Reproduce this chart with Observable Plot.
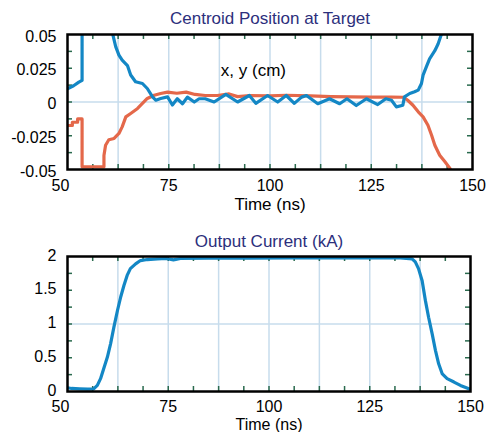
<!DOCTYPE html>
<html>
<head>
<meta charset="utf-8">
<script src="https://cdn.jsdelivr.net/npm/d3@7"></script>
<script src="https://cdn.jsdelivr.net/npm/@observablehq/plot@0.6"></script>
<style>
  html, body { margin: 0; padding: 0; background: #fff; }
  #chart svg { display: block; }
</style>
</head>
<body>
<div id="chart"></div>
<script>
// ---- Data ----
const topTitle = "Centroid Position at Target";
const bottomTitle = "Output Current (kA)";
const xAxisLabel = "Time (ns)";
const innerLabel = "x, y (cm)";

const timeX = [50, 51.5, 52.8, 53.6, 53.6, 60.0, 61.9, 62.7, 63.5, 64.8, 65.6, 66.8, 68.5, 69.7, 71.0, 71.8, 73.0, 74.7, 75.9, 77.1, 78.4, 79.6, 81.3, 82.5, 84.0, 86.2, 89.1, 92.0, 94.9, 96.5, 99.4, 101.9, 104.0, 106.0, 107.8, 109.0, 111.8, 114.7, 117.2, 119.0, 121.3, 123.8, 126.6, 128.6, 130.0, 131.2, 132.8, 133.2, 134.5, 135.7, 136.6, 137.4, 137.8, 138.6, 139.4, 140.7, 141.5, 142.3, 143.0];
const centroidX = [0.0098, 0.012, 0.0147, 0.016, 0.075, 0.065, 0.041, 0.0347, 0.031, 0.027, 0.020, 0.015, 0.0137, 0.010, 0.0038, 0.0013, 0.0026, 0.0038, -0.0022, 0.0024, -0.0013, 0.0036, 0, 0.0024, 0.0024, 0, 0.0056, 0, 0.0048, -0.001, 0.0048, 0, 0.0048, -0.001, 0.0036, 0.0048, -0.0013, 0.0024, -0.0013, 0.0024, -0.0026, 0.0024, -0.0019, 0.0024, 0.0013, -0.0036, -0.0024, 0.0038, 0.0063, 0.0076, 0.0088, 0.0137, 0.0199, 0.026, 0.032, 0.038, 0.043, 0.05, 0.056];

const timeY = [50, 51.2, 51.2, 52.5, 52.5, 53.6, 53.6, 59.0, 59.0, 59.4, 60.2, 61.5, 62.7, 63.5, 64.4, 65.6, 67.3, 68.5, 69.7, 71.4, 73.0, 74.7, 77.0, 79.3, 81.5, 84, 87, 89.9, 92, 95, 100, 104, 110, 115, 120, 125, 130, 133, 134.0, 135.3, 136.6, 137.8, 139.0, 139.9, 140.7, 141.9, 143.2, 144.4, 145.2];
const centroidY = [-0.0174, -0.0174, -0.015, -0.015, -0.0125, -0.0125, -0.048, -0.048, -0.0396, -0.032, -0.028, -0.027, -0.0233, -0.0184, -0.011, -0.0085, -0.0048, -0.0011, 0.0026, 0.005, 0.0063, 0.0073, 0.0065, 0.0073, 0.0056, 0.0048, 0.0048, 0.006, 0.0040, 0.0048, 0.0045, 0.005, 0.0045, 0.004, 0.0038, 0.0036, 0.0036, 0.0035, 0.0013, -0.0024, -0.0073, -0.011, -0.0172, -0.0246, -0.032, -0.0394, -0.0443, -0.049, -0.054];

const timeI = [50, 51, 53, 55, 56.5, 57.4, 58.2, 59.0, 59.9, 60.7, 61.5, 62.4, 63.2, 64.0, 64.8, 65.6, 66.9, 68.1, 69.8, 72.3, 74.5, 76.3, 78, 85, 95, 105, 115, 125, 132.6, 135.5, 136.3, 137.1, 138.0, 138.8, 139.6, 140.5, 141.3, 142.1, 143.0, 144.2, 145.9, 147.5, 149.6, 150];
const current = [0.055, 0.045, 0.04, 0.035, 0.04, 0.09, 0.19, 0.34, 0.51, 0.71, 0.95, 1.2, 1.40, 1.57, 1.72, 1.82, 1.89, 1.94, 1.955, 1.966, 1.97, 1.95, 1.97, 1.975, 1.975, 1.98, 1.98, 1.98, 1.98, 1.966, 1.92, 1.82, 1.64, 1.35, 1.10, 0.85, 0.61, 0.41, 0.26, 0.19, 0.14, 0.09, 0.04, 0.03];

const xTickLabels = [75, 100, 125, 150];
const xFirstLabel = [50];
const xGrid = [62.5, 75, 87.5, 100, 112.5, 125, 137.5];
const xMinor = [56.25, 62.5, 68.75, 75, 81.25, 87.5, 93.75, 100, 106.25, 112.5, 118.75, 125, 131.25, 137.5, 143.75];
const yTopLabels = [-0.05, -0.025, 0, 0.025, 0.05];
const yTopMinor = [-0.0375, -0.025, -0.0125, 0, 0.0125, 0.025, 0.0375];
const yTopGrid = [0];
const yBotLabels = [0, 0.5, 1, 1.5, 2];
const yBotMinor = [0.25, 0.5, 0.75, 1, 1.25, 1.5, 1.75];
const yBotGrid = [1];
const innerLabelPos = [{t: 95.9, v: 0.0233}];

// ---- Style ----
const BLUE = "#1387c5";
const ORANGE = "#e4684a";
const GRID = "#c7dcec";
const TICK = "#2a6a4e";
const NAVY = "#2c2f7c";
const FONT = "'Liberation Sans', Arial, sans-serif";

function panel({height, mT, mB, mL, mR, yDomain, yLabels, yMinor, yGrid, series, title, titleDy, xlabDy, xlabSize = 17, xPad = 10, yDy = 2, extra = []}) {
  const fw = 487 - mL - mR;
  const fh = height - mT - mB;
  const tl = 5;
  return Plot.plot({
    width: 487, height,
    marginTop: mT, marginBottom: mB, marginLeft: mL, marginRight: mR,
    x: {domain: [50, 150]},
    y: {domain: yDomain},
    style: {fontFamily: FONT, fontSize: "16px", color: "black", background: "white", overflow: "visible"},
    marks: [
      Plot.ruleX(xGrid, {stroke: GRID, strokeWidth: 1.5}),
      Plot.ruleY(yGrid, {stroke: GRID, strokeWidth: 1.5}),
      Plot.ruleX(xMinor, {stroke: TICK, strokeWidth: 1.5, insetBottom: fh - tl}),
      Plot.ruleX(xMinor, {stroke: TICK, strokeWidth: 1.5, insetTop: fh - tl}),
      Plot.ruleY(yMinor, {stroke: TICK, strokeWidth: 1.5, insetRight: fw - tl}),
      Plot.ruleY(yMinor, {stroke: TICK, strokeWidth: 1.5, insetLeft: fw - tl}),
      ...series.map(s => Plot.line(s.t.map((t, i) => ({t, v: s.v[i]})), {x: "t", y: "v", stroke: s.color, strokeWidth: 3.2, clip: true})),
      Plot.frame({stroke: "black", strokeWidth: 2.5}),
      Plot.axisX(xTickLabels, {tickSize: 0, tickPadding: xPad, label: null, fontSize: 16}),
      Plot.axisX(xFirstLabel, {tickSize: 0, tickPadding: xPad, label: null, dx: -7, fontSize: 16}),
      Plot.axisY(yLabels, {tickSize: 0, tickPadding: 11, label: null, dy: yDy, tickFormat: d => String(d), fontSize: 16}),
      Plot.text([title], {frameAnchor: "top", lineAnchor: "middle", dy: titleDy, fill: NAVY, fontSize: 17}),
      Plot.text([xAxisLabel], {frameAnchor: "bottom", lineAnchor: "middle", dy: xlabDy, fill: "black", fontSize: xlabSize}),
      ...extra
    ]
  });
}

const topChart = panel({
  height: 220, mT: 34, mB: 51, mL: 67, mR: 15,
  yDomain: [-0.05, 0.05], yLabels: yTopLabels, yMinor: yTopMinor, yGrid: yTopGrid,
  series: [{t: timeY, v: centroidY, color: ORANGE}, {t: timeX, v: centroidX, color: BLUE}],
  title: topTitle, titleDy: -16, xlabDy: 35.5,
  extra: [Plot.text(innerLabelPos, {x: "t", y: "v", text: () => innerLabel, fill: "black", fontSize: 17})]
});

const bottomChart = panel({
  height: 212, mT: 36, mB: 41, mL: 67, mR: 17,
  yDomain: [0, 2], yLabels: yBotLabels, yMinor: yBotMinor, yGrid: yBotGrid,
  series: [{t: timeI, v: current, color: BLUE}],
  title: bottomTitle, titleDy: -15, xlabDy: 33, xlabSize: 16, xPad: 9, yDy: -1
});

const el = document.getElementById("chart");
el.appendChild(topChart);
el.appendChild(bottomChart);
</script>
</body>
</html>
